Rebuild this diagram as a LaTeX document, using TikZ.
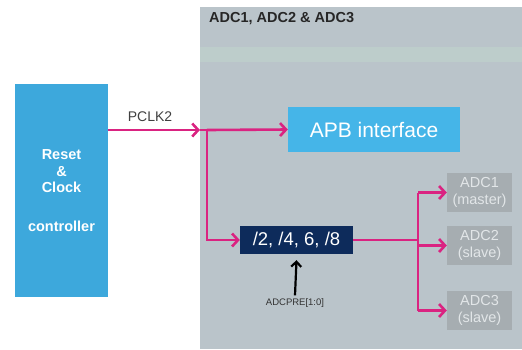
\documentclass[tikz,border=0pt]{standalone}
\usepackage{fontspec}
\setmainfont{Liberation Sans}
\usetikzlibrary{arrows.meta,positioning}
\definecolor{panelgrey}{HTML}{BAC4CA}
\definecolor{stripgreen}{HTML}{BDCDCB}
\definecolor{rccblue}{HTML}{3DA8DC}
\definecolor{apbblue}{HTML}{45B5E8}
\definecolor{divnavy}{HTML}{0D2B5B}
\definecolor{adcgrey}{HTML}{A6ADB1}
\definecolor{adctext}{HTML}{E2E6E8}
\definecolor{clkpink}{HTML}{DA2381}

\begin{document}
\begin{tikzpicture}[x=1pt,y=-1pt,
  blk/.style={inner sep=0pt,align=center},
  clkline/.style={clkpink,line width=2.6pt},
  clk/.style={clkline,-{Straight Barb[length=6pt,width=13pt]}},
  adcbox/.style={blk,fill=adcgrey,text=adctext,minimum width=65,minimum height=39,font=\fontsize{14.5}{17}\selectfont}]
  \useasboundingbox (0,0) rectangle (522,349);
  % ADC panel
  \fill[panelgrey] (200,7) rectangle (522,349);
  \fill[stripgreen] (200,47) rectangle (522,62);
  \node[font=\fontsize{14.5}{16}\selectfont\bfseries,anchor=west,text=black!85,inner sep=0pt] (title) at (209,18.5) {ADC1, ADC2 \& ADC3};

  % Blocks
  \node[blk,fill=rccblue,text=white,minimum width=93,minimum height=213,font=\fontsize{14.5}{16.5}\selectfont\bfseries] (rcc) at (61.5,190.5) {Reset\\\&\\Clock\\[22pt]controller};
  \node[blk,fill=apbblue,text=white,minimum width=172,minimum height=45,font=\fontsize{21}{24}\selectfont] (apb) at (374,129.5) {APB interface};
  \node[blk,fill=divnavy,text=white,minimum width=113,minimum height=28,font=\fontsize{18.5}{20}\selectfont] (div) at (296.5,240) {/2, /4, 6, /8};
  \node[adcbox] (adc1) at (479.5,192.5) {ADC1\\(master)};
  \node[adcbox] (adc2) at (479.5,245.5) {ADC2\\(slave)};
  \node[adcbox] (adc3) at (479.5,310.5) {ADC3\\(slave)};

  % Labels
  \node[font=\fontsize{14}{16}\selectfont,text=black!75,inner sep=0pt] (pclk) at (150,117) {PCLK2};
  \node[font=\fontsize{9.5}{11}\selectfont,text=black!80,inner sep=0pt] (adcpre) at (295,303) {ADCPRE[1:0]};

  % Clock paths
  \coordinate (edge) at (200,130);
  \coordinate (j1) at (207,130);
  \coordinate (j2) at (418,240);
  \draw[clk] (rcc.east |- edge) -- (edge);
  \draw[clkline] (edge) -- (j1);
  \draw[clk] (j1) -- (apb.west);
  \draw[clk] (j1) |- (div.west);
  \draw[clkline] (div.east) -- (j2);
  \draw[clkline] (j2 |- adc1.west) -- (j2 |- adc3.west);
  \foreach \a in {adc1,adc2,adc3}
    \draw[clk] (j2 |- \a.west) -- (\a.west);

  % Prescaler select
  \draw[line width=2.2pt,-{Straight Barb[length=5pt,width=10pt]}] ([yshift=3pt]adcpre.north) -- ([yshift=-6pt]div.south);
\end{tikzpicture}
\end{document}
